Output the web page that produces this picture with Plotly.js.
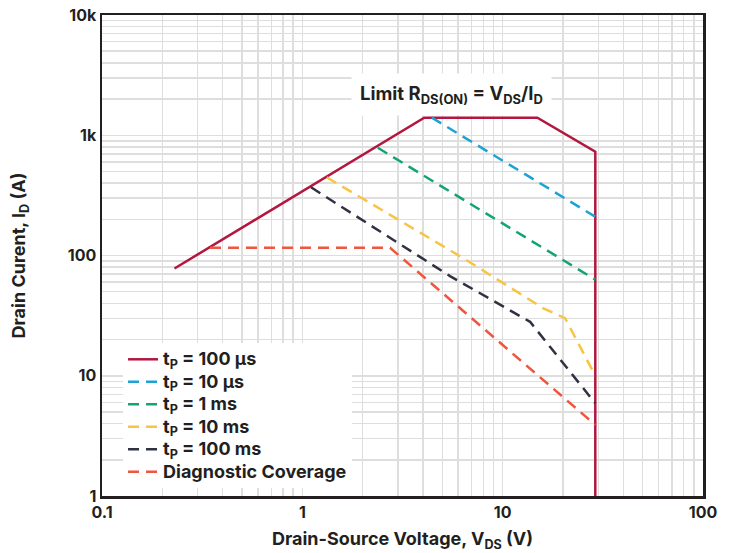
<!DOCTYPE html>
<html>
<head>
<meta charset="utf-8">
<script src="https://cdn.plot.ly/plotly-3.0.1.min.js"></script>
<style>html,body{margin:0;padding:0;background:#fff;}#chart{width:733px;height:553px;}</style>
</head>
<body>
<div id="chart"></div>
<script>
// Safe operating area data (V_DS in volts, I_D in amps)
const names = ['t<sub>P</sub> = 100 µs', 't<sub>P</sub> = 10 µs', 't<sub>P</sub> = 1 ms', 't<sub>P</sub> = 10 ms', 't<sub>P</sub> = 100 ms', 'Diagnostic Coverage'];
const limitV = [0.23, 4.06, 14.9, 29, 29];
const limitI = [78, 1400, 1400, 730, 1];
const us10V = [4.43, 29];
const us10I = [1400, 210];
const ms1V = [2.38, 29];
const ms1I = [787, 63];
const ms10V = [1.325, 6.37, 15.96, 20.5, 29];
const ms10I = [446, 94.9, 36.4, 30.1, 10];
const ms100V = [1.105, 5.46, 13.7, 29];
const ms100I = [369, 67.4, 28.1, 5.9];
const diagV = [0.346, 2.74, 29];
const diagI = [116, 116, 3.9];

const xTickVals = [0.1, 1, 10, 100];
const xTickText = ['0.1', '1', '10', '100'];
const yTickVals = [1, 10, 100, 1000, 10000];
const yTickText = ['1', '10', '100', '1k', '10k'];

const colors = ['#b3173f', '#1ba3d4', '#14a470', '#f7c445', '#2f3243', '#f0553d'];
const xs = [limitV, us10V, ms1V, ms10V, ms100V, diagV];
const ys = [limitI, us10I, ms1I, ms10I, ms100I, diagI];

const traces = xs.map((x, i) => ({
  x: x, y: ys[i], name: '<span style="font-size:18px">' + names[i] + '</span>',
  type: 'scatter', mode: 'lines',
  line: {color: colors[i], width: 2.5, dash: i === 0 ? 'solid' : '11px,7px'}
}));

const FONT = 'Inter, Roboto, sans-serif';
const grid = '#dedede';
const layout = {
  width: 733, height: 553,
  margin: {l: 102, r: 30, t: 15, b: 57},
  paper_bgcolor: '#fff', plot_bgcolor: '#fff',
  font: {family: FONT, color: '#231f20', size: 16, weight: 700},
  showlegend: true,
  legend: {
    x: 0.035, y: 0.318, xanchor: 'left', yanchor: 'top',
    bgcolor: '#fff', borderwidth: 0,
    font: {family: FONT, size: 15, weight: 700, color: '#231f20'}
  },
  xaxis: {
    type: 'log', range: [-1, 2], tickmode: 'array', tickvals: xTickVals, ticktext: xTickText,
    showgrid: true, gridcolor: grid, gridwidth: 1.5,
    minor: {dtick: 'D1', showgrid: true, gridcolor: grid, gridwidth: 1.5},
    showline: true, linecolor: '#231f20', linewidth: 2.5, mirror: true,
    ticks: '', zeroline: false,
    tickfont: {family: FONT, size: 16, weight: 700},
    title: {text: 'Drain-Source Voltage, V<sub>DS</sub> (V)', font: {family: FONT, size: 18, weight: 700}, standoff: 12}
  },
  yaxis: {
    type: 'log', range: [0, 4], tickmode: 'array', tickvals: yTickVals, ticktext: yTickText,
    showgrid: true, gridcolor: grid, gridwidth: 1.5,
    minor: {dtick: 'D1', showgrid: true, gridcolor: grid, gridwidth: 1.5},
    showline: true, linecolor: '#231f20', linewidth: 2.5, mirror: true,
    ticks: '', zeroline: false,
    tickfont: {family: FONT, size: 16, weight: 700},
    title: {text: 'Drain Curent, I<sub>D</sub> (A)', font: {family: FONT, size: 18, weight: 700}, standoff: 38}
  },
  annotations: [{
    xref: 'paper', yref: 'paper', x: 0.582, y: 0.834,
    xanchor: 'center', yanchor: 'middle', showarrow: false,
    text: 'Limit R<sub>DS(ON)</sub> = V<sub>DS</sub>/I<sub>D</sub>',
    font: {family: FONT, size: 18.5, weight: 700, color: '#231f20'},
    bgcolor: '#fff', borderpad: 8
  }]
};

Plotly.newPlot('chart', traces, layout, {displayModeBar: false, staticPlot: true});
</script>
</body>
</html>
